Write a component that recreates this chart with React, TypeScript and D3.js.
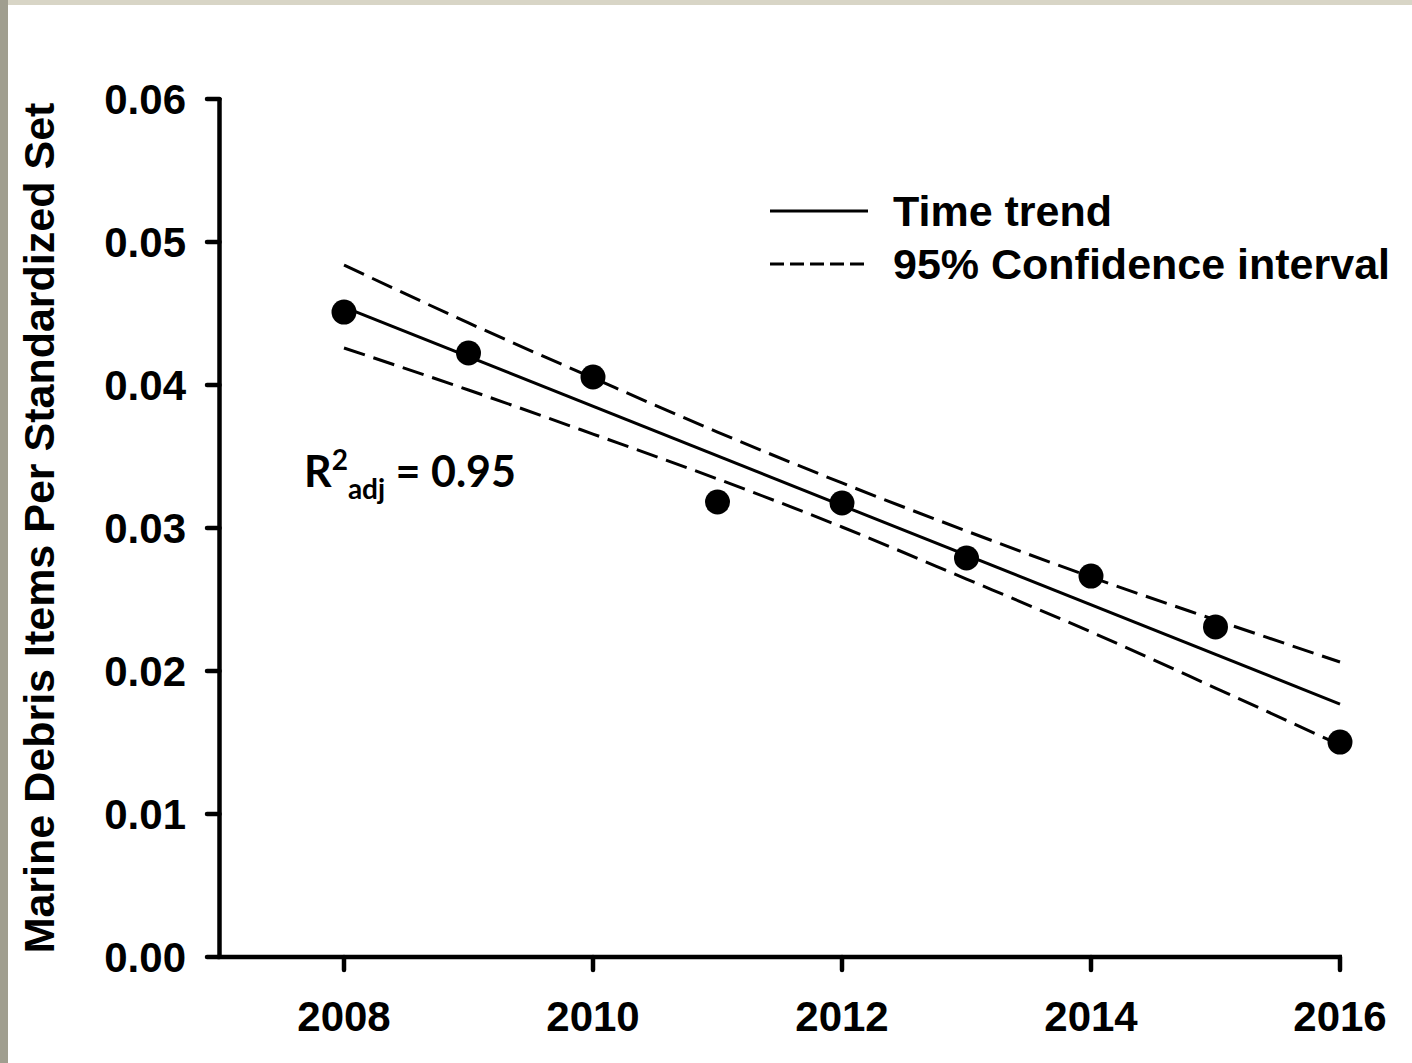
import React from "react";
import * as d3 from "d3";

const years = [2008, 2009, 2010, 2011, 2012, 2013, 2014, 2015, 2016];
const debris = [0.0451, 0.04224, 0.04056, 0.03182, 0.03175, 0.0279, 0.02664, 0.02308, 0.01503];
const trendYears = [2008, 2016];
const trendValues = [0.04545, 0.01769];
const ciUpper = [0.04839, 0.04434, 0.04049, 0.03671, 0.03315, 0.02979, 0.02657, 0.02357, 0.02063];
const ciLower = [0.04259, 0.03965, 0.03657, 0.03343, 0.03007, 0.02643, 0.02273, 0.01881, 0.01483];
const xTicks = [2008, 2010, 2012, 2014, 2016];
const yTicks = [0, 0.01, 0.02, 0.03, 0.04, 0.05, 0.06];
const legendLabels = ["Time trend", "95% Confidence interval"];

const W = 1412;
const H = 1063;
const FONT = "'Liberation Sans', Arial, sans-serif";

export default function App() {
  const x = d3.scaleLinear().domain([2007, 2016]).range([219.5, 1340]);
  const y = d3.scaleLinear().domain([0, 0.06]).range([957, 99]);

  const ciLine = d3
    .line<[number, number]>()
    .x((d) => x(d[0]))
    .y((d) => y(d[1]))
    .curve(d3.curveMonotoneX);
  const straight = d3
    .line<[number, number]>()
    .x((d) => x(d[0]))
    .y((d) => y(d[1]));

  const upperPath = ciLine(years.map((yr, i) => [yr, ciUpper[i]]));
  const lowerPath = ciLine(years.map((yr, i) => [yr, ciLower[i]]));
  const trendPath = straight(trendYears.map((yr, i) => [yr, trendValues[i]]));

  const axisY = y(0);
  const axisX = x(2007);

  return (
    <svg
      width={W}
      height={H}
      style={{ position: "absolute", left: 0, top: 0, display: "block" }}
      xmlns="http://www.w3.org/2000/svg"
    >
      <rect x={0} y={0} width={W} height={H} fill="#ffffff" />
      <rect x={0} y={0} width={W} height={5} fill="#d8d5c6" />
      <rect x={0} y={0} width={8} height={H} fill="#a09e8f" />

      {/* axes */}
      <line x1={axisX} y1={y(0.06) - 1} x2={axisX} y2={axisY + 2} stroke="#000" strokeWidth={4.5} />
      <line x1={axisX - 2} y1={axisY} x2={x(2016) + 2} y2={axisY} stroke="#000" strokeWidth={4.5} />
      {yTicks.map((t) => (
        <g key={"yt" + t}>
          <line x1={207} x2={axisX} y1={y(t)} y2={y(t)} stroke="#000" strokeWidth={4.5} strokeLinecap="round" />
          <text
            x={186}
            y={y(t)}
            dy="0.36em"
            textAnchor="end"
            fontFamily={FONT}
            fontWeight="bold"
            fontSize={42}
            fill="#000"
          >
            {t.toFixed(2)}
          </text>
        </g>
      ))}
      {xTicks.map((t) => (
        <g key={"xt" + t}>
          <line x1={x(t)} x2={x(t)} y1={axisY} y2={axisY + 13} stroke="#000" strokeWidth={4.5} strokeLinecap="round" />
          <text
            x={x(t)}
            y={1031}
            textAnchor="middle"
            fontFamily={FONT}
            fontWeight="bold"
            fontSize={42}
            fill="#000"
          >
            {t}
          </text>
        </g>
      ))}

      <text
        transform={`translate(54, 528) rotate(-90)`}
        textAnchor="middle"
        fontFamily={FONT}
        fontWeight="bold"
        fontSize={43}
        fill="#000"
      >
        Marine Debris Items Per Standardized Set
      </text>

      {/* lines */}
      <path d={upperPath || ""} fill="none" stroke="#000" strokeWidth={3} strokeDasharray="22,9" />
      <path d={lowerPath || ""} fill="none" stroke="#000" strokeWidth={3} strokeDasharray="22,9" />
      <path d={trendPath || ""} fill="none" stroke="#000" strokeWidth={3} />

      {/* points */}
      {years.map((yr, i) => (
        <circle key={"p" + yr} cx={x(yr)} cy={y(debris[i])} r={12.5} fill="#000" />
      ))}

      {/* legend */}
      <line x1={770} x2={868} y1={211} y2={211} stroke="#000" strokeWidth={3} />
      <line x1={770} x2={864} y1={264} y2={264} stroke="#000" strokeWidth={3} strokeDasharray="14,6" />
      <text x={893} y={226} fontFamily={FONT} fontWeight="bold" fontSize={43} fill="#000">
        {legendLabels[0]}
      </text>
      <text x={893} y={279} fontFamily={FONT} fontWeight="bold" fontSize={43} fill="#000">
        {legendLabels[1]}
      </text>

      {/* R2 annotation */}
      <text x={304} y={487} fontFamily="Lato, 'Open Sans', sans-serif" fontWeight="bold" fontSize={43} fill="#000">
        R
        <tspan fontSize={28} dy={-17}>2</tspan>
        <tspan fontSize={28} dy={29}>adj</tspan>
        <tspan dy={-12}> = 0.95</tspan>
      </text>
    </svg>
  );
}
